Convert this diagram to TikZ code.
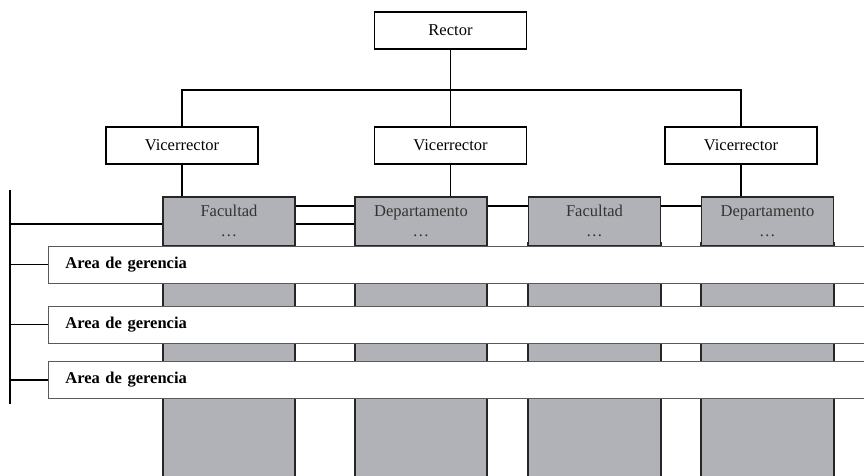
\documentclass[tikz,border=0pt]{standalone}
\usepackage{fontspec}
\setmainfont{Liberation Serif}
\definecolor{colgray}{RGB}{177,178,183}
\begin{document}
\begin{tikzpicture}[x=0.75pt, y=-0.75pt, font=\fontsize{12.4}{15}\selectfont,
  line width=0.9pt,
  post/.style={draw, fill=white, minimum width=114pt, minimum height=27.75pt, inner sep=0pt},
  unit/.style={draw=black!85, line width=1.4pt, fill=colgray, minimum width=99pt, minimum height=36.5pt, inner sep=0pt, align=center, anchor=north, text=black!80},
  column/.style={draw=black!85, line width=1.4pt, fill=colgray},
  area/.style={draw=black!65, line width=0.6pt, fill=white, anchor=west, minimum height=27.75pt, text width=597pt, inner xsep=12.75pt, align=left, font=\fontsize{12.4}{15}\selectfont\bfseries}]
\clip (0,0) rectangle (864,475);
\useasboundingbox (0,0) rectangle (864,475);
% top of the chart
\node (rector)[post] at (450.5, 30.5) {Rector};
\node (vice1)[post] at (182, 145.5) {Vicerrector};
\node (vice2)[post] at (450.5, 145.5) {Vicerrector};
\node (vice3)[post] at (741, 145.5) {Vicerrector};
\coordinate (split) at (450.5, 90);
\draw (rector) -- (vice2);
\draw (vice1.north) |- (split) -| (vice3.north);
% columns
\draw[column] (163,243) rectangle (295,480);
\draw[column] (355,243) rectangle (487,480);
\draw[column] (528,243) rectangle (661,480);
\draw[column] (701,243) rectangle (834,480);
\node (fac1)[unit] at (229, 196) {Facultad\\\ldots};
\node (dep1)[unit] at (421, 196) {Departamento\\\ldots};
\node (fac2)[unit] at (594.5, 196) {Facultad\\\ldots};
\node (dep2)[unit] at (767.5, 196) {Departamento\\\ldots};
\draw (vice1.south) -- (vice1.south |- fac1.north);
\draw (vice2.south) -- (vice2.south |- dep1.north);
\draw (vice3.south) -- (vice3.south |- dep2.north);
\draw ([yshift=-7.5pt]fac1.north east) -- ([yshift=-7.5pt]dep1.north west);
\draw ([yshift=-7.5pt]dep1.north east) -- ([yshift=-7.5pt]fac2.north west);
\draw ([yshift=-7.5pt]fac2.north east) -- ([yshift=-7.5pt]dep2.north west);
\draw (fac1.south east) -- (dep1.south west);
\draw (dep1.south east) -- (fac2.south west);
\draw (fac2.south east) -- (dep2.south west);
% management areas
\node (area1)[area] at (48, 264.5) {Area de gerencia};
\node (area2)[area] at (48, 324.5) {Area de gerencia};
\node (area3)[area] at (48, 380) {Area de gerencia};
\coordinate (bustop) at (10, 190);
\coordinate (busend) at (10, 404);
\coordinate (link) at (10, 224);
\draw (bustop) -- (busend);
\draw (link) -- (link -| fac1.west);
\draw (link -| fac1.east) -- (link -| dep1.west);
\draw (area1.west -| bustop) -- (area1.west);
\draw (area2.west -| bustop) -- (area2.west);
\draw (area3.west -| bustop) -- (area3.west);
\end{tikzpicture}
\end{document}
